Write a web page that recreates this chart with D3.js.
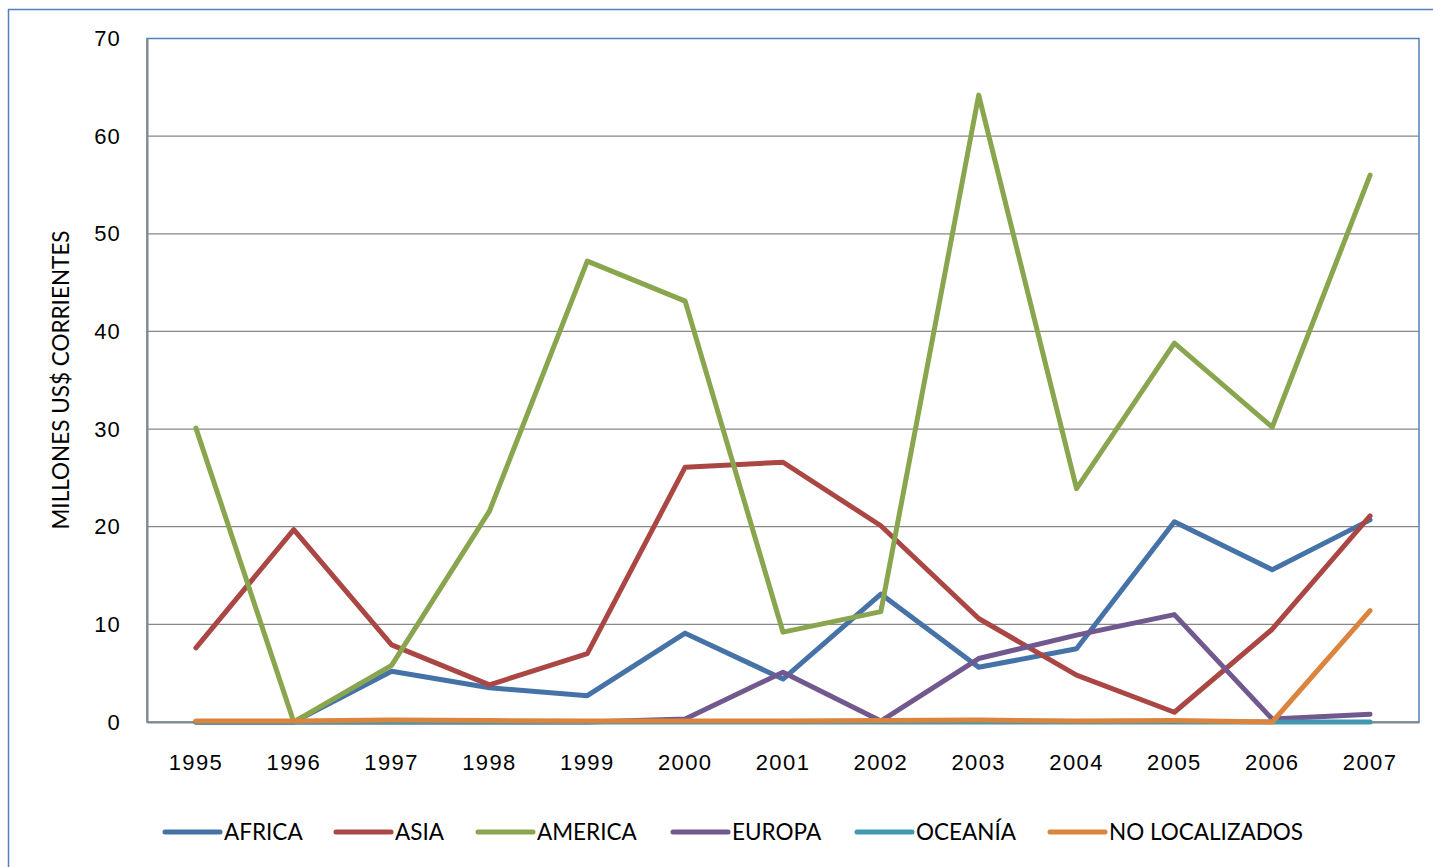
<!DOCTYPE html>
<html>
<head>
<meta charset="utf-8">
<script src="https://cdn.jsdelivr.net/npm/d3@7"></script>
<style>
  html, body { margin: 0; padding: 0; background: #fff; }
  svg { display: block; font-family: Lato, "Open Sans", sans-serif; }
</style>
</head>
<body>
<svg id="chart" width="1433" height="867"></svg>
<script>
// Annual flows by destination region, millions of current US$
const years = ["1995","1996","1997","1998","1999","2000","2001","2002","2003","2004","2005","2006","2007"];
const africa   = [0, 0, 5.2, 3.5, 2.7, 9.1, 4.4, 13.1, 5.6, 7.5, 20.5, 15.6, 20.7];
const asia     = [7.6, 19.7, 7.9, 3.8, 7.0, 26.1, 26.6, 20.1, 10.6, 4.8, 1.0, 9.5, 21.1];
const america  = [30.1, 0, 5.8, 21.6, 47.2, 43.1, 9.2, 11.3, 64.2, 23.9, 38.8, 30.2, 56.0];
const europa   = [0, 0, 0, 0, 0, 0.3, 5.1, 0.1, 6.5, 8.9, 11.0, 0.3, 0.8];
const oceania  = [0, 0, 0, 0, 0, 0, 0, 0, 0, 0, 0, 0, 0];
const noLoc    = [0.1, 0.1, 0.2, 0.15, 0.1, 0.1, 0.1, 0.15, 0.2, 0.1, 0.15, 0, 11.4];
const yTicks   = [0, 10, 20, 30, 40, 50, 60, 70];

const seriesNames  = ["AFRICA", "ASIA", "AMERICA", "EUROPA", "OCEANÍA", "NO LOCALIZADOS"];
const seriesValues = [africa, asia, america, europa, oceania, noLoc];
const seriesColors = ["#4572A7", "#AA4643", "#89A54E", "#71588F", "#4198AF", "#DB843D"];

const svg = d3.select("#chart");
const plot = { left: 147, right: 1419, top: 38.5, bottom: 722 };

// Outer chart border
svg.append("rect")
  .attr("x", 8.5).attr("y", 9.5).attr("width", 1440).attr("height", 880)
  .attr("fill", "none").attr("stroke", "#4F81BD").attr("stroke-width", 1.5);

const x = d3.scaleBand().domain(years).range([plot.left, plot.right]);
const y = d3.scaleLinear().domain([0, 70]).range([plot.bottom, plot.top]);

// Plot area border (top/right in blue)
svg.append("rect")
  .attr("x", plot.left).attr("y", plot.top)
  .attr("width", plot.right - plot.left).attr("height", plot.bottom - plot.top)
  .attr("fill", "none").attr("stroke", "#4F81BD").attr("stroke-width", 1.5);

// Horizontal gridlines
svg.append("g")
  .selectAll("line")
  .data(yTicks.filter(d => d > 0 && d < 70))
  .join("line")
  .attr("x1", plot.left).attr("x2", plot.right)
  .attr("y1", d => y(d)).attr("y2", d => y(d))
  .attr("stroke", "#878787").attr("stroke-width", 1.3);

// Axes
const yAxis = svg.append("g")
  .attr("transform", `translate(${plot.left},0)`)
  .call(d3.axisLeft(y).tickValues(yTicks).tickSize(0).tickPadding(26));
yAxis.select(".domain").attr("stroke", "#878787").attr("stroke-width", 2);
yAxis.selectAll("text").attr("font-size", 22).attr("letter-spacing", 1.2).attr("fill", "#000");

const xAxis = svg.append("g")
  .attr("transform", `translate(0,${plot.bottom})`)
  .call(d3.axisBottom(x).tickSize(0).tickPadding(32));
xAxis.select(".domain").attr("stroke", "#878787").attr("stroke-width", 2);
xAxis.selectAll("text").attr("font-size", 22).attr("letter-spacing", 1.4).attr("fill", "#000");

// Y-axis title
svg.append("text")
  .attr("transform", `translate(69,380) rotate(-90)`)
  .attr("text-anchor", "middle")
  .attr("font-size", 22.5)
  .text("MILLONES US$ CORRIENTES");

// Series lines
const line = d3.line()
  .x((d, i) => x(years[i]) + x.bandwidth() / 2)
  .y(d => y(d));

svg.append("g")
  .selectAll("path")
  .data(seriesValues)
  .join("path")
  .attr("d", line)
  .attr("fill", "none")
  .attr("stroke", (d, i) => seriesColors[i])
  .attr("stroke-width", 5)
  .attr("stroke-linejoin", "round")
  .attr("stroke-linecap", "round");

// Legend
const legendX = [165, 336, 478, 673, 857, 1050];
const legend = svg.append("g")
  .selectAll("g")
  .data(seriesNames)
  .join("g")
  .attr("transform", (d, i) => `translate(${legendX[i]},832)`);
legend.append("line")
  .attr("x1", 0).attr("x2", 55).attr("y1", 0).attr("y2", 0)
  .attr("stroke", (d, i) => seriesColors[i])
  .attr("stroke-width", 5)
  .attr("stroke-linecap", "round");
legend.append("text")
  .attr("x", 59).attr("y", 8)
  .attr("font-size", 22.5)
  .text(d => d);
</script>
</body>
</html>
